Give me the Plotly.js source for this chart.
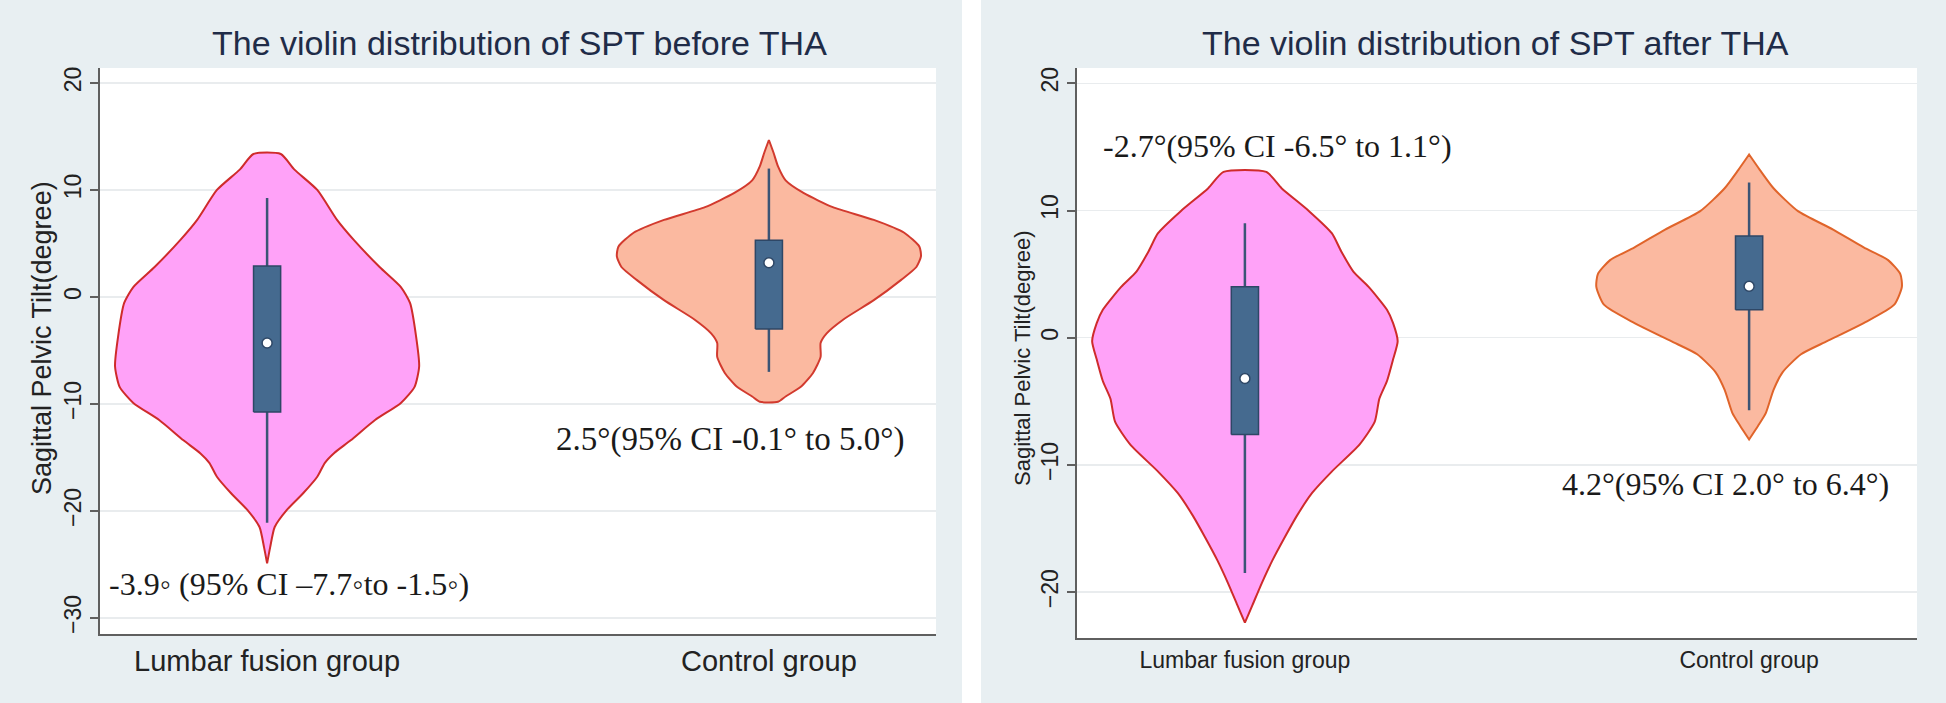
<!DOCTYPE html>
<html><head><meta charset="utf-8">
<script src="https://cdn.plot.ly/plotly-3.0.1.min.js"></script>
<style>html,body{margin:0;padding:0;background:#fff}#chart{width:1946px;height:703px}</style>
</head><body><div id="chart"></div><script>
// ---------- data ----------
const categories = ["Lumbar fusion group", "Control group"];
const panelTitles = ["The violin distribution of SPT before THA", "The violin distribution of SPT after THA"];
const yAxisTitle = "Sagittal Pelvic Tilt(degree)";
const beforeTicks = [-30, -20, -10, 0, 10, 20];
const afterTicks = [-20, -10, 0, 10, 20];

// violin outlines: value levels and relative density (1 = widest)
const beforeLumbarY = [13.36, 11.9, 10.0, 7.2, 5.33, 2.8, 0.93, -0.56, -3.7, -6.5, -8.4, -9.9, -11.5, -13.4, -14.6, -15.5, -16.8, -18.3, -19.9, -21.5, -23.4, -24.9];
const beforeLumbarDensity = [0.09, 0.18, 0.33, 0.46, 0.57, 0.74, 0.88, 0.94, 0.98, 1.0, 0.97, 0.88, 0.71, 0.55, 0.44, 0.38, 0.33, 0.24, 0.13, 0.05, 0.02, 0];
const beforeControlY = [14.67, 13.5, 12.2, 10.9, 9.7, 8.4, 7.2, 6.0, 4.7, 3.8, 2.8, 1.6, -0.3, -2.1, -3.4, -4.3, -5.6, -7.1, -8.4, -9.3, -9.8];
const beforeControlDensity = [0, 0.03, 0.06, 0.11, 0.23, 0.42, 0.69, 0.89, 0.99, 1.0, 0.97, 0.87, 0.69, 0.49, 0.38, 0.34, 0.34, 0.29, 0.21, 0.11, 0.06];
const afterLumbarY = [13.03, 11.75, 9.95, 8.2, 6.8, 5.2, 4.0, 2.2, 1.15, -0.27, -1.7, -3.4, -4.8, -6.6, -8.4, -10.5, -12.2, -14.0, -15.7, -17.5, -19.3, -21.0, -22.4];
const afterLumbarDensity = [0.14, 0.24, 0.42, 0.57, 0.63, 0.71, 0.81, 0.93, 0.97, 1.0, 0.97, 0.93, 0.88, 0.85, 0.75, 0.57, 0.44, 0.34, 0.26, 0.18, 0.11, 0.05, 0];
const afterControlY = [14.4, 13.2, 11.75, 9.95, 8.5, 7.1, 6.1, 5.0, 4.0, 2.6, 1.15, -0.27, -1.3, -2.7, -4.1, -5.9, -6.9, -8.0];
const afterControlDensity = [0, 0.07, 0.16, 0.32, 0.55, 0.75, 0.91, 0.99, 1.0, 0.95, 0.75, 0.51, 0.34, 0.22, 0.16, 0.11, 0.06, 0];

// box statistics [lumbar, control]
const beforeLow = [-21.1, -7.0];
const beforeQ1 = [-10.75, -3.0];
const beforeMedian = [-4.3, 3.2];
const beforeQ3 = [2.9, 5.3];
const beforeHigh = [9.25, 12.0];
const afterLow = [-18.5, -5.7];
const afterQ1 = [-7.6, 2.2];
const afterMedian = [-3.2, 4.05];
const afterQ3 = [4.0, 8.0];
const afterHigh = [9.0, 12.2];

const beforeNotes = ["-3.9\u25E6 (95% CI \u20137.7\u25E6to -1.5\u25E6)", "2.5\u00B0(95% CI -0.1\u00B0 to 5.0\u00B0)"];
const afterNotes = ["-2.7\u00B0(95% CI -6.5\u00B0 to 1.1\u00B0)", "4.2\u00B0(95% CI 2.0\u00B0 to 6.4\u00B0)"];

// ---------- drawing ----------
const W = 1946, H = 703;
const HALF = 0.303;   // widest half-width of a violin in x units
const BOXHALF = 0.027;
const pos = [1, 2];
const traces = [];

function violin(yv, dens, center, fill, line, xa, ya) {
  const xs = [], ys = [];
  for (let i = 0; i < yv.length; i++) { xs.push(center - dens[i] * HALF); ys.push(yv[i]); }
  for (let i = yv.length - 1; i >= 0; i--) { xs.push(center + dens[i] * HALF); ys.push(yv[i]); }
  xs.push(xs[0]); ys.push(ys[0]);
  traces.push({type: 'scatter', mode: 'lines', x: xs, y: ys, fill: 'toself', fillcolor: fill,
    line: {color: line, width: 2, shape: 'spline', smoothing: 0.6}, xaxis: xa, yaxis: ya, hoverinfo: 'skip'});
}
function boxes(lo, q1, med, q3, hi, xa, ya) {
  for (let i = 0; i < 2; i++) {
    const c = pos[i];
    traces.push({type: 'scatter', mode: 'lines', x: [c, c], y: [lo[i], hi[i]],
      line: {color: '#3b5475', width: 2.5}, xaxis: xa, yaxis: ya, hoverinfo: 'skip'});
    traces.push({type: 'scatter', mode: 'lines', x: [c - BOXHALF, c + BOXHALF, c + BOXHALF, c - BOXHALF, c - BOXHALF],
      y: [q1[i], q1[i], q3[i], q3[i], q1[i]], fill: 'toself', fillcolor: '#456a8f',
      line: {color: '#2e4766', width: 1.5}, xaxis: xa, yaxis: ya, hoverinfo: 'skip'});
  }
  traces.push({type: 'scatter', mode: 'markers', x: pos, y: med,
    marker: {color: '#ffffff', size: 10, line: {color: '#2e4766', width: 1.5}}, xaxis: xa, yaxis: ya, hoverinfo: 'skip'});
}

violin(beforeLumbarY, beforeLumbarDensity, pos[0], '#ffa2f8', '#cf2b2b', 'x', 'y');
violin(beforeControlY, beforeControlDensity, pos[1], '#fbb9a0', '#d23a2e', 'x', 'y');
boxes(beforeLow, beforeQ1, beforeMedian, beforeQ3, beforeHigh, 'x', 'y');
violin(afterLumbarY, afterLumbarDensity, pos[0], '#ffa2f8', '#cf2b2b', 'x2', 'y2');
violin(afterControlY, afterControlDensity, pos[1], '#fbb9a0', '#e0642a', 'x2', 'y2');
boxes(afterLow, afterQ1, afterMedian, afterQ3, afterHigh, 'x2', 'y2');

const axisLine = '#5f5f5f';
function xAxis(domain, fs) {
  return {domain: domain, range: [0.667, 2.333], tickvals: pos, ticktext: categories, ticks: '',
    showgrid: false, zeroline: false, showline: true, linecolor: axisLine, linewidth: 2,
    tickfont: {family: 'Liberation Sans, Arial, sans-serif', size: fs, color: '#222'}, fixedrange: true};
}
function yAxis(domain, range, tv, anchor) {
  return {domain: domain, range: range, tickvals: tv, ticks: 'outside', ticklen: 8, tickwidth: 2, tickcolor: axisLine,
    tickangle: -90, showgrid: true, gridcolor: '#e9ecee', gridwidth: 1.5, zeroline: false, showline: true,
    linecolor: axisLine, linewidth: 2, anchor: anchor,
    tickfont: {family: 'Liberation Sans, Arial, sans-serif', size: 23, color: '#222'}, fixedrange: true};
}

const leftX = [100 / W, 936 / W], leftY = [1 - 634 / H, 1 - 68 / H];
const rightX = [1077 / W, 1917 / W], rightY = [1 - 638 / H, 1 - 68 / H];

const layout = {
  width: W, height: H, margin: {l: 0, r: 0, t: 0, b: 0}, showlegend: false,
  paper_bgcolor: '#ffffff', plot_bgcolor: 'rgba(0,0,0,0)',
  xaxis: Object.assign(xAxis(leftX, 29), {anchor: 'y'}),
  yaxis: yAxis(leftY, [-31.5, 21.4], beforeTicks, 'x'),
  xaxis2: Object.assign(xAxis(rightX, 23), {anchor: 'y2'}),
  yaxis2: yAxis(rightY, [-23.6, 21.2], afterTicks, 'x2'),
  shapes: [
    {type: 'rect', xref: 'paper', yref: 'paper', x0: 0, x1: 962 / W, y0: 0, y1: 1, fillcolor: '#e8eff2', line: {width: 0}, layer: 'below'},
    {type: 'rect', xref: 'paper', yref: 'paper', x0: 981 / W, x1: 1, y0: 0, y1: 1, fillcolor: '#e8eff2', line: {width: 0}, layer: 'below'},
    {type: 'rect', xref: 'paper', yref: 'paper', x0: leftX[0], x1: leftX[1], y0: leftY[0], y1: leftY[1], fillcolor: '#ffffff', line: {width: 0}, layer: 'below'},
    {type: 'rect', xref: 'paper', yref: 'paper', x0: rightX[0], x1: rightX[1], y0: rightY[0], y1: rightY[1], fillcolor: '#ffffff', line: {width: 0}, layer: 'below'}
  ],
  annotations: [
    {xref: 'paper', yref: 'paper', x: 519 / W, y: 1 - 43 / H, xanchor: 'center', yanchor: 'middle', showarrow: false,
      text: panelTitles[0], font: {family: 'Liberation Sans, Arial, sans-serif', size: 34, color: '#1f2c48'}},
    {xref: 'paper', yref: 'paper', x: 1495 / W, y: 1 - 43 / H, xanchor: 'center', yanchor: 'middle', showarrow: false,
      text: panelTitles[1], font: {family: 'Liberation Sans, Arial, sans-serif', size: 34, color: '#1f2c48'}},
    {xref: 'paper', yref: 'paper', x: 42 / W, y: 1 - 338 / H, xanchor: 'center', yanchor: 'middle', showarrow: false, textangle: -90,
      text: yAxisTitle, font: {family: 'Liberation Sans, Arial, sans-serif', size: 27, color: '#222'}},
    {xref: 'paper', yref: 'paper', x: 1022 / W, y: 1 - 358 / H, xanchor: 'center', yanchor: 'middle', showarrow: false, textangle: -90,
      text: yAxisTitle, font: {family: 'Liberation Sans, Arial, sans-serif', size: 22, color: '#222'}},
    {xref: 'x', yref: 'y', x: 1.044, y: -26.8, showarrow: false, xanchor: 'center', yanchor: 'middle',
      text: beforeNotes[0], font: {family: 'Liberation Serif, Times New Roman, serif', size: 32, color: '#1a1a1a'}},
    {xref: 'x', yref: 'y', x: 1.923, y: -13.3, showarrow: false, xanchor: 'center', yanchor: 'middle',
      text: beforeNotes[1], font: {family: 'Liberation Serif, Times New Roman, serif', size: 33, color: '#1a1a1a'}},
    {xref: 'x2', yref: 'y2', x: 1.065, y: 15.05, showarrow: false, xanchor: 'center', yanchor: 'middle',
      text: afterNotes[0], font: {family: 'Liberation Serif, Times New Roman, serif', size: 32, color: '#1a1a1a'}},
    {xref: 'x2', yref: 'y2', x: 1.954, y: -11.5, showarrow: false, xanchor: 'center', yanchor: 'middle',
      text: afterNotes[1], font: {family: 'Liberation Serif, Times New Roman, serif', size: 32, color: '#1a1a1a'}}
  ]
};

Plotly.newPlot('chart', traces, layout, {staticPlot: true, displayModeBar: false});
</script></body></html>
